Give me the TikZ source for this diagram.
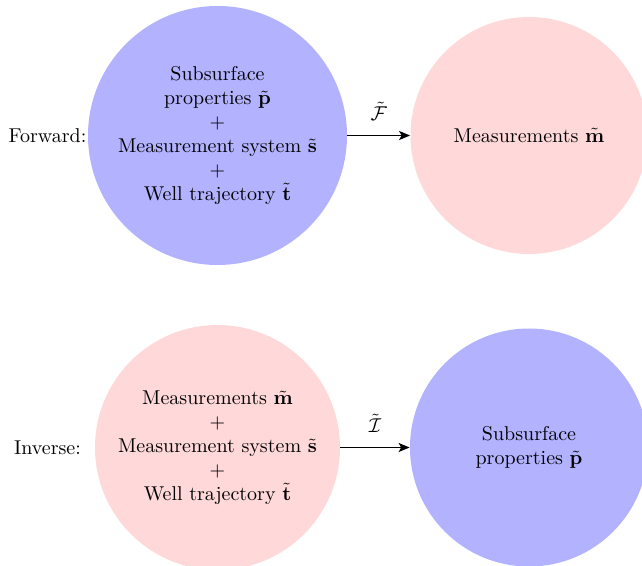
\documentclass[tikz,border=0pt]{standalone}
\usepackage{amsmath}
\usetikzlibrary{arrows.meta}

\tikzset{
  blob/.style={circle, inner sep=0pt, align=center, text=black},
  inputblob/.style={blob, fill=blue!30},
  outputblob/.style={blob, fill=red!15},
  maparrow/.style={-{Stealth[length=5.5pt,width=4.5pt,inset=1.3pt]}, line width=0.9pt},
  rowlabel/.style={inner sep=0pt}
}

\begin{document}
\begin{tikzpicture}[x=0.5pt, y=-0.5pt]
  \useasboundingbox (0,0) rectangle (642,566);

  % forward problem
  \node[inputblob, minimum size=129.5pt] (fwdin) at (217.5,135.5)
    {Subsurface\\ properties $\tilde{\mathbf{p}}$\\ $+$\\ Measurement system $\tilde{\mathbf{s}}$\\ $+$\\ Well trajectory $\tilde{\mathbf{t}}$};
  \node[outputblob, minimum size=118.5pt] (fwdout) at (529,135.5)
    {Measurements $\tilde{\mathbf{m}}$};
  \node[rowlabel] (fwdlabel) at (47.5,136) {Forward:};
  \draw[maparrow] (fwdin) -- node[above=3.5pt] (fwdmap) {$\tilde{\mathcal{F}}$} (fwdout);

  % inverse problem
  \node[outputblob, minimum size=122.5pt] (invin) at (217.5,447.5)
    {Measurements $\tilde{\mathbf{m}}$\\ $+$\\ Measurement system $\tilde{\mathbf{s}}$\\ $+$\\ Well trajectory $\tilde{\mathbf{t}}$};
  \node[inputblob, minimum size=119pt] (invout) at (529,447.5)
    {Subsurface\\ properties $\tilde{\mathbf{p}}$};
  \node[rowlabel] (invlabel) at (47.5,448) {Inverse:};
  \draw[maparrow] (invin) -- node[above=3.5pt] (invmap) {$\tilde{\mathcal{I}}$} (invout);
\end{tikzpicture}
\end{document}
